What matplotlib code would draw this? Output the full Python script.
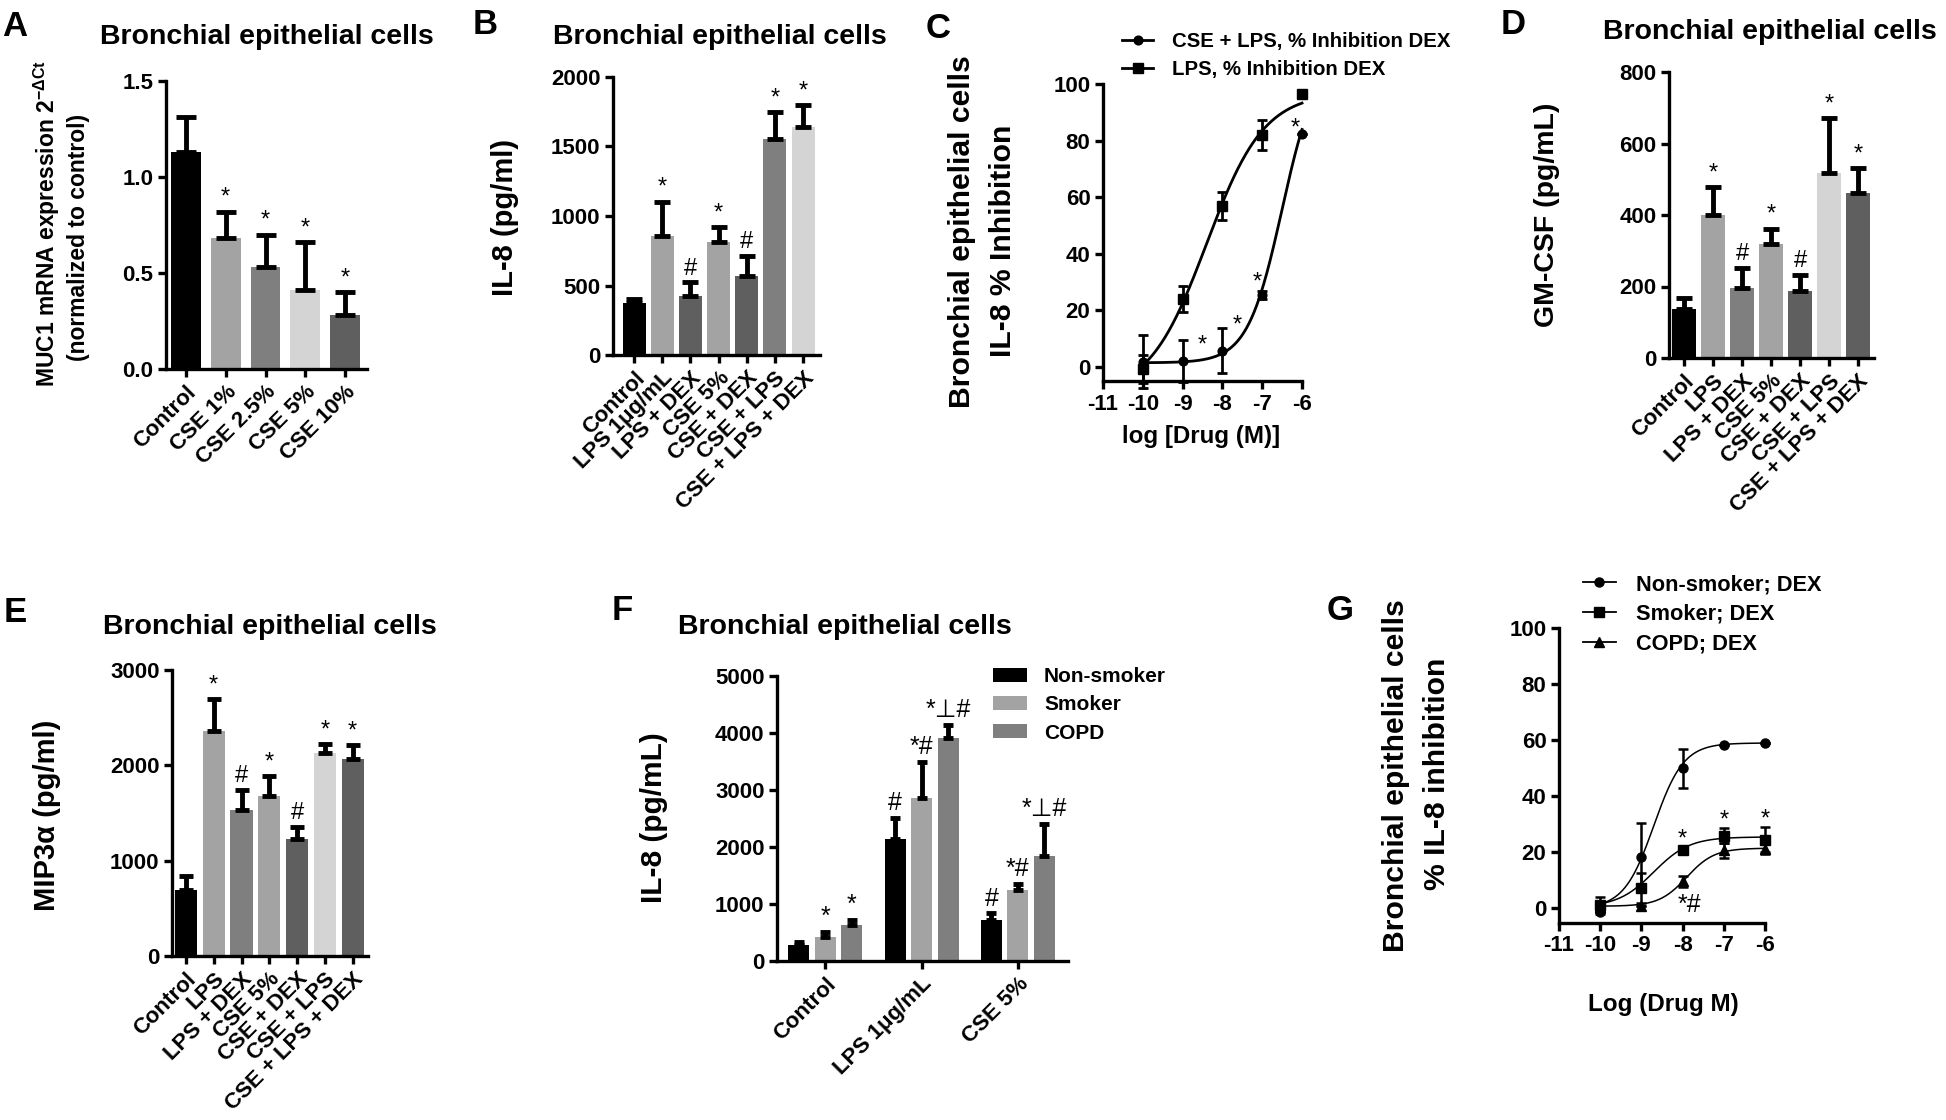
import numpy as np
import matplotlib

matplotlib.use("Agg")

import matplotlib.pyplot as plt
from matplotlib.lines import Line2D

plt.rcParams["font.family"] = ["Liberation Sans", "DejaVu Sans"]
plt.rcParams["font.weight"] = "bold"
plt.rcParams["axes.unicode_minus"] = False
plt.rcParams["mathtext.fontset"] = "custom"
plt.rcParams["mathtext.rm"] = "Liberation Sans"

W, H = 1946, 1120

# ---- data ----
a_labels = ["Control", "CSE 1%", "CSE 2.5%", "CSE 5%", "CSE 10%"]
a_vals = [1.13, 0.68, 0.53, 0.41, 0.28]
a_errs = [0.18, 0.14, 0.17, 0.25, 0.12]
a_marks = ["", "*", "*", "*", "*"]

b_labels = ["Control", "LPS 1μg/mL", "LPS + DEX", "CSE 5%", "CSE + DEX", "CSE + LPS", "CSE + LPS + DEX"]
b_vals = [374, 858, 427, 813, 566, 1554, 1638]
b_errs = [29, 245, 96, 105, 149, 194, 161]
b_marks = ["", "*", "#", "*", "#", "*", "*"]

c_dose = [-10, -9, -8, -7, -6]
c_cse_lps = [1.9, 2.1, 5.8, 25.4, 82.3]
c_cse_lps_err = [9.4, 7.4, 7.9, 1.5, 0.0]
c_lps = [-0.8, 24.1, 57.0, 82.0, 96.4]
c_lps_err = [5.0, 4.7, 4.9, 5.3, 0.0]
# fitted curves: bottom, top, logEC50, hill
c_fit_cse_lps = [1.5, 110, -6.5, 1.0]
c_fit_lps = [-10, 97, -8.4, 0.6]
c_star_x = [-8.51, -7.63, -7.13, -6.18]
c_star_y = [5.4, 12.5, 27.7, 82.2]

d_labels = ["Control", "LPS", "LPS + DEX", "CSE 5%", "CSE + DEX", "CSE + LPS", "CSE + LPS + DEX"]
d_vals = [136, 401, 197, 320, 187, 517, 462]
d_errs = [33, 77, 55, 42, 45, 153, 69]
d_marks = ["", "*", "#", "*", "#", "*", "*"]

e_labels = ["Control", "LPS", "LPS + DEX", "CSE 5%", "CSE + DEX", "CSE + LPS", "CSE + LPS + DEX"]
e_vals = [690, 2363, 1530, 1677, 1232, 2125, 2065]
e_errs = [146, 329, 210, 210, 123, 94, 147]
e_marks = ["", "*", "#", "*", "#", "*", "*"]

f_groups = ["Control", "LPS 1μg/mL", "CSE 5%"]
f_series = ["Non-smoker", "Smoker", "COPD"]
f_nonsmoker = [280, 2136, 716]
f_nonsmoker_err = [55, 370, 119]
f_smoker = [418, 2864, 1253]
f_smoker_err = [89, 626, 101]
f_copd = [627, 3920, 1838]
f_copd_err = [101, 227, 561]
f_nonsmoker_marks = ["", "#", "#"]
f_smoker_marks = ["*", "*#", "*#"]
f_copd_marks = ["*", "*⊥#", "*⊥#"]

g_dose = [-10, -9, -8, -7, -6]
g_nonsmoker = [-1.2, 18.4, 50.0, 58.2, 59.0]
g_nonsmoker_err = [0.0, 11.9, 7.0, 0.0, 0.0]
g_smoker = [1.2, 7.3, 20.7, 26.0, 24.5]
g_smoker_err = [3.0, 5.4, 0.0, 2.7, 4.5]
g_copd = [0.6, 0.8, 9.7, 20.7, 21.2]
g_copd_err = [0.0, 0.0, 2.0, 2.6, 1.8]
g_fit_nonsmoker = [0.0, 59, -8.7, 1.2]
g_fit_smoker = [0.5, 25.5, -8.7, 1.0]
g_fit_copd = [0.8, 21.5, -7.9, 1.3]
g_star_x = [-8.0, -7.0, -6.0]
g_star_y = [22.5, 29.1, 29.7]

BLACK, LIGHT, MID, PALE, DARK = "#000000", "#a3a3a3", "#7f7f7f", "#d4d4d4", "#5f5f5f"

fig = plt.figure(figsize=(W / 100, H / 100), dpi=100)


def box(x0, y0, x1, y1):
    return [x0 / W, 1 - y1 / H, (x1 - x0) / W, (y1 - y0) / H]


def ftext(x, y, s, **kw):
    fig.text(x / W, 1 - y / H, s, ha=kw.pop("ha", "center"), va=kw.pop("va", "center"), **kw)


def style(ax):
    for s in ["top", "right"]:
        ax.spines[s].set_visible(False)
    for s in ["left", "bottom"]:
        ax.spines[s].set_linewidth(2.4)
    ax.tick_params(width=2.4, length=5.5, labelsize=16, direction="out")


def logistic(xs, p):
    b, t, ec, h = p
    return b + (t - b) / (1 + 10 ** ((ec - xs) * h))


def bar_panel(ax, labels, vals, errs, colors, marks, width, xlim, ylim, yticks, fmt, capsize):
    x = np.arange(len(vals))
    ax.bar(x, vals, width=width, color=colors, zorder=2)
    ax.errorbar(x, vals, yerr=[np.zeros(len(errs)), errs], fmt="none", ecolor="black",
                elinewidth=3.5, capsize=capsize, capthick=3.5, zorder=3)
    for xi, v, e, m in zip(x, vals, errs, marks):
        if m:
            ax.annotate(m, (xi, v + e), xytext=(0, 2), textcoords="offset points",
                        ha="center", va="bottom", fontsize=17, fontweight="normal")
    ax.set_xlim(*xlim)
    ax.set_ylim(*ylim)
    ax.set_yticks(yticks, [fmt.format(t) for t in yticks])
    ax.set_xticks(x, labels, rotation=45, ha="right", rotation_mode="anchor", fontsize=16)
    style(ax)


# ---- A ----
axA = fig.add_axes(box(166, 81, 367, 369))
bar_panel(axA, a_labels, a_vals, a_errs, [BLACK, LIGHT, MID, PALE, DARK], a_marks,
          0.75, (-0.5, 4.55), (0, 1.5), [0, 0.5, 1.0, 1.5], "{:.1f}", 7)

# ---- B ----
axB = fig.add_axes(box(613, 77, 820, 355))
bar_panel(axB, b_labels, b_vals, b_errs, [BLACK, LIGHT, DARK, LIGHT, DARK, MID, PALE], b_marks,
          0.82, (-0.75, 6.6), (0, 2000), [0, 500, 1000, 1500, 2000], "{:d}", 5.5)

# ---- D ----
axD = fig.add_axes(box(1669, 72, 1874, 358))
bar_panel(axD, d_labels, d_vals, d_errs, [BLACK, LIGHT, MID, LIGHT, DARK, PALE, DARK], d_marks,
          0.8, (-0.52, 6.55), (0, 800), [0, 200, 400, 600, 800], "{:d}", 5.5)

# ---- E ----
axE = fig.add_axes(box(172, 670, 368, 956))
bar_panel(axE, e_labels, e_vals, e_errs, [BLACK, LIGHT, MID, LIGHT, DARK, PALE, DARK], e_marks,
          0.8, (-0.5, 6.55), (0, 3000), [0, 1000, 2000, 3000], "{:d}", 5)

# ---- C ----
axC = fig.add_axes(box(1103, 84, 1302, 381.2))
xs = np.linspace(-10, -6, 200)
axC.plot(xs, logistic(xs, c_fit_cse_lps), color="black", lw=2.0, clip_on=False)
axC.plot(xs, logistic(xs, c_fit_lps), color="black", lw=2.0, clip_on=False)
axC.errorbar(c_dose, c_cse_lps, yerr=c_cse_lps_err, fmt="o", color="black", ms=6.3,
             elinewidth=2.0, capsize=3.6, capthick=2.0, clip_on=False)
axC.errorbar(c_dose, c_lps, yerr=c_lps_err, fmt="s", color="black", ms=6.5,
             elinewidth=2.0, capsize=3.6, capthick=2.0, clip_on=False)
for sx, sy in zip(c_star_x, c_star_y):
    axC.text(sx, sy, "*", ha="center", va="baseline", fontsize=17, fontweight="normal")
axC.set_xlim(-11, -6)
axC.set_ylim(-5, 100)
axC.set_xticks([-11, -10, -9, -8, -7, -6])
axC.set_yticks([0, 20, 40, 60, 80, 100])
style(axC)
c_handles = [Line2D([], [], color="black", lw=2.0, marker="o", ms=6.3),
             Line2D([], [], color="black", lw=2.0, marker="s", ms=6.5)]
axC.legend(c_handles, ["CSE + LPS, % Inhibition DEX", "LPS, % Inhibition DEX"],
           loc="upper left", bbox_to_anchor=(1122 / W, 1 - 32 / H), bbox_transform=fig.transFigure,
           frameon=False, fontsize=14.7, handlelength=1.52, handletextpad=0.93, labelspacing=0.45,
           borderpad=0, borderaxespad=0)

# ---- F ----
axF = fig.add_axes(box(777, 676, 1068, 961))
gx = np.arange(len(f_groups))
offs = 0.275
bw = 0.218
for k, (vals, errs, marks, col, name) in enumerate(zip(
        [f_nonsmoker, f_smoker, f_copd], [f_nonsmoker_err, f_smoker_err, f_copd_err],
        [f_nonsmoker_marks, f_smoker_marks, f_copd_marks], [BLACK, LIGHT, MID], f_series)):
    xb = gx + (k - 1) * offs
    axF.bar(xb, vals, width=bw, color=col, label=name, zorder=2)
    axF.errorbar(xb, vals, yerr=[np.zeros(len(errs)), errs], fmt="none", ecolor="black",
                 elinewidth=3.5, capsize=3.8, capthick=3.5, zorder=3)
    for xi, v, e, m in zip(xb, vals, errs, marks):
        if m:
            axF.annotate(m, (xi, v + e), xytext=(0, 2), textcoords="offset points",
                         ha="center", va="bottom", fontsize=18, fontweight="normal")
axF.set_xlim(-0.5, 2.52)
axF.set_ylim(0, 5000)
axF.set_yticks([0, 1000, 2000, 3000, 4000, 5000])
axF.set_xticks(gx, f_groups, rotation=45, ha="right", rotation_mode="anchor", fontsize=16.5)
style(axF)
axF.legend(loc="upper left", bbox_to_anchor=(993 / W, 1 - 667 / H), bbox_transform=fig.transFigure,
           frameon=False, fontsize=15, handlelength=1.63, handleheight=0.65, handletextpad=0.82,
           labelspacing=0.45, borderpad=0, borderaxespad=0)

# ---- G ----
axG = fig.add_axes(box(1559, 628, 1765, 922.5))
for fit in [g_fit_nonsmoker, g_fit_smoker, g_fit_copd]:
    axG.plot(xs, logistic(xs, fit), color="black", lw=1.1, clip_on=False)
for vals, errs, mk in zip([g_nonsmoker, g_smoker, g_copd], [g_nonsmoker_err, g_smoker_err, g_copd_err],
                          ["o", "s", "^"]):
    axG.errorbar(g_dose, vals, yerr=errs, fmt=mk, color="black", ms=6.5,
                 elinewidth=1.8, capsize=3.8, capthick=1.8, clip_on=False)
for sx, sy in zip(g_star_x, g_star_y):
    axG.text(sx, sy, "*", ha="center", va="baseline", fontsize=17, fontweight="normal")
axG.text(-7.83, -1.2, "*#", ha="center", va="baseline", fontsize=18, fontweight="normal")
axG.set_xlim(-11, -6)
axG.set_ylim(-5, 100)
axG.set_xticks([-11, -10, -9, -8, -7, -6])
axG.set_yticks([0, 20, 40, 60, 80, 100])
style(axG)
g_handles = [Line2D([], [], color="black", lw=1.3, marker=m, ms=6.5) for m in ["o", "s", "^"]]
axG.legend(g_handles, ["Non-smoker; DEX", "Smoker; DEX", "COPD; DEX"],
           loc="upper left", bbox_to_anchor=(1583 / W, 1 - 574 / H), bbox_transform=fig.transFigure,
           frameon=False, fontsize=15.7, handlelength=1.5, handletextpad=0.92, labelspacing=0.4,
           borderpad=0, borderaxespad=0)

# ---- titles, letters, axis labels ----
title = "Bronchial epithelial cells"
for (x, y) in [(267, 37), (720, 37), (1770, 32), (270, 627), (845, 627)]:
    ftext(x, y, title, fontsize=20.5)

for (x, y, s) in [(15, 26, "A"), (485, 25, "B"), (938, 29, "C"), (1513, 25, "D"),
                  (15, 612, "E"), (622, 611, "F"), (1340, 610, "G")]:
    ftext(x, y, s, fontsize=25)

ftext(47, 223, "MUC1 mRNA expression 2$^{\\mathregular{-ΔCt}}$", rotation=90, fontsize=16.5)
ftext(79, 237, "(normalized to control)", rotation=90, fontsize=16.5)
ftext(505, 217, "IL-8 (pg/ml)", rotation=90, fontsize=21)
ftext(962, 232, "Bronchial epithelial cells", rotation=90, fontsize=21.7)
ftext(1003, 241, "IL-8 % Inhibition", rotation=90, fontsize=21.7)
ftext(1201, 436, "log [Drug (M)]", fontsize=17.4)
ftext(1547, 215, "GM-CSF (pg/mL)", rotation=90, fontsize=20.5)
ftext(47, 815, "MIP3α (pg/ml)", rotation=90, fontsize=21)
ftext(654, 818, "IL-8 (pg/mL)", rotation=90, fontsize=21.5)
ftext(1396, 776, "Bronchial epithelial cells", rotation=90, fontsize=21.7)
ftext(1437, 774, "% IL-8 inhibition", rotation=90, fontsize=21.7)
ftext(1663, 1005, "Log (Drug M)", fontsize=17.5)

fig.savefig("out.png", dpi=100)
